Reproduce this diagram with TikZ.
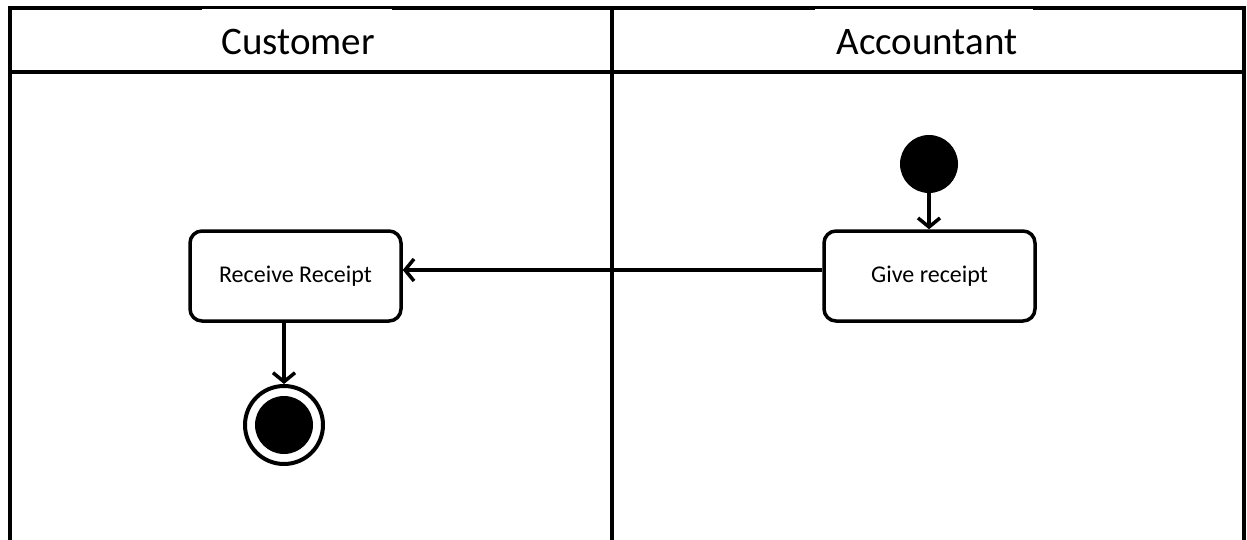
\documentclass[tikz,border=0pt]{standalone}
\usepackage{fontspec}
\setmainfont{Carlito}
\usetikzlibrary{arrows.meta}
\begin{document}
\begin{tikzpicture}[x=1pt,y=-1pt,
  frame/.style={line width=4pt},
  thinframe/.style={line width=2.2pt},
  lane/.style={font=\fontsize{39}{46}\selectfont, inner sep=0pt},
  action/.style={draw, line width=3.5pt, rounded corners=12pt, minimum width=211pt, minimum height=90pt, font=\fontsize{24}{28}\selectfont, inner sep=0pt},
  initial/.style={circle, fill, minimum size=58pt, inner sep=0pt},
  final/.style={circle, draw, line width=4pt, minimum size=78pt, inner sep=0pt},
  finaldot/.style={circle, fill, minimum size=58pt, inner sep=0pt},
  flow/.style={line width=3.5pt, -{Straight Barb[length=9pt,width=22pt]}}
]
\useasboundingbox (0,0) rectangle (1247,540);
\fill[white] (0,0) rectangle (1247,540);
% frame
\draw[frame] (10,540) -- (10,8) -- (202,8);
\draw[thinframe] (202,7.5) -- (392,7.5);
\draw[frame] (392,8) -- (815,8);
\draw[thinframe] (815,7.5) -- (1033,7.5);
\draw[frame] (1033,8) -- (1244,8) -- (1244,540);
\draw[frame] (8,72) -- (1246,72);
\draw[frame] (612,8) -- (612,540);
% lane titles
\node[lane] (cust) at (298,42) {Customer};
\node[lane] (acct) at (927,42) {Accountant};
% nodes
\node[initial] (start) at (929,164) {};
\node[action] (give) at (929.5,276) {Give receipt};
\node[action] (recv) at (295.5,276) {Receive Receipt};
\node[final] (end) at (284,425) {};
\node[finaldot] (enddot) at (end.center) {};
% flows
\draw[flow] (start) -- (start |- give.north);
\draw[flow] ([yshift=6pt]give.west) -- ([yshift=6pt]recv.east);
\draw[flow] (recv.south -| end) -- (end);
\end{tikzpicture}
\end{document}
